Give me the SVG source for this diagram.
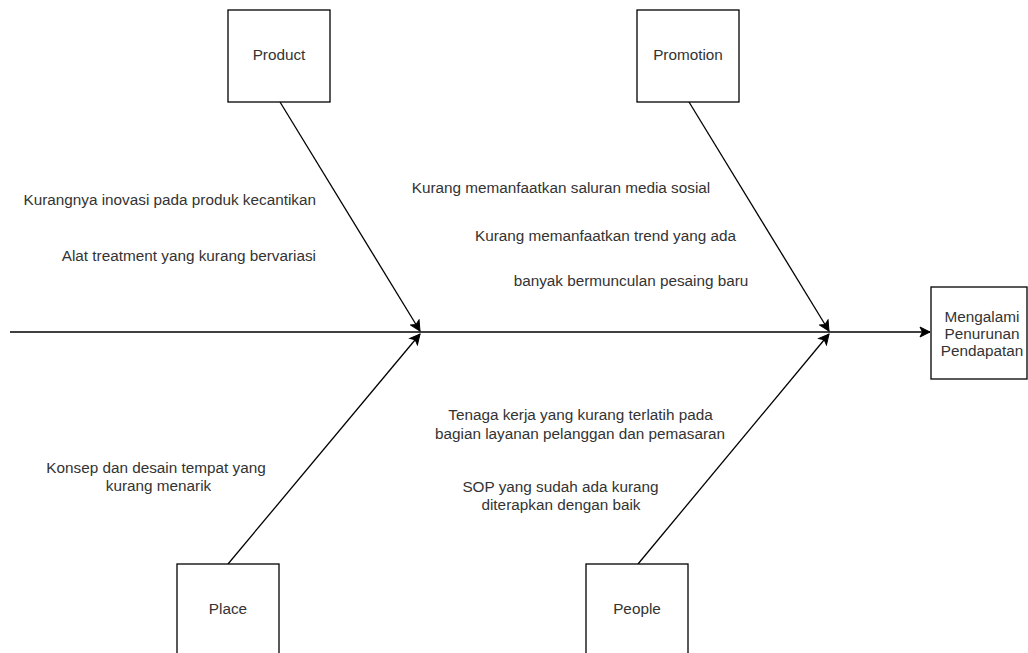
<svg xmlns="http://www.w3.org/2000/svg" width="1028" height="653" viewBox="0 0 1028 653">
<defs>
<marker id="arr" markerUnits="userSpaceOnUse" markerWidth="14" markerHeight="12" refX="11" refY="6" orient="auto">
<path d="M1,1 L11,6 L1,11 L3.5,6 Z" fill="#000" stroke="#000" stroke-width="1"/>
</marker>
</defs>
<style>
.box{fill:#fff;stroke:#000;stroke-width:1.3}
.t{font-family:"Liberation Sans",Arial,sans-serif;font-size:15.3px;fill:#333}
.c{text-anchor:middle}
.e{text-anchor:end}
.ln{stroke:#000;stroke-width:1.3;fill:none}
</style>
<rect width="1028" height="653" fill="#fff"/>
<g id="connectors">
<line class="ln" x1="10" y1="332" x2="930" y2="332" marker-end="url(#arr)"/>
<line class="ln" x1="280" y1="102" x2="420" y2="331" marker-end="url(#arr)"/>
<line class="ln" x1="228" y1="564" x2="420" y2="334" marker-end="url(#arr)"/>
<line class="ln" x1="689" y1="102" x2="829" y2="331" marker-end="url(#arr)"/>
<line class="ln" x1="638" y1="564" x2="829" y2="334" marker-end="url(#arr)"/>
</g>
<g id="product">
<rect class="box" x="228" y="10" width="102" height="92"/>
<text class="t c" x="279" y="60">Product</text>
</g>
<g id="promotion">
<rect class="box" x="637" y="10" width="102" height="92"/>
<text class="t c" x="688" y="60">Promotion</text>
</g>
<g id="place">
<rect class="box" x="177" y="564" width="102" height="92"/>
<text class="t c" x="228" y="614">Place</text>
</g>
<g id="people">
<rect class="box" x="586" y="564" width="102" height="92"/>
<text class="t c" x="637" y="614">People</text>
</g>
<g id="result">
<rect class="box" x="931" y="287" width="96" height="92"/>
<text class="t c" x="982" y="322">Mengalami</text>
<text class="t c" x="982" y="339">Penurunan</text>
<text class="t c" x="982" y="356">Pendapatan</text>
</g>
<g id="product-causes">
<text class="t e" x="316" y="205">Kurangnya inovasi pada produk kecantikan</text>
<text class="t e" x="316" y="261">Alat treatment yang kurang bervariasi</text>
</g>
<g id="promotion-causes">
<text class="t c" x="561" y="193">Kurang memanfaatkan saluran media sosial</text>
<text class="t c" x="605.5" y="241">Kurang memanfaatkan trend yang ada</text>
<text class="t c" x="631" y="286">banyak bermunculan pesaing baru</text>
</g>
<g id="place-causes">
<text class="t c" x="156" y="473">Konsep dan desain tempat yang</text>
<text class="t c" x="158.5" y="491">kurang menarik</text>
</g>
<g id="people-causes">
<text class="t c" x="580.5" y="420">Tenaga kerja yang kurang terlatih pada</text>
<text class="t c" x="580" y="439">bagian layanan pelanggan dan pemasaran</text>
<text class="t c" x="560.5" y="492">SOP yang sudah ada kurang</text>
<text class="t c" x="561" y="510">diterapkan dengan baik</text>
</g>
</svg>
